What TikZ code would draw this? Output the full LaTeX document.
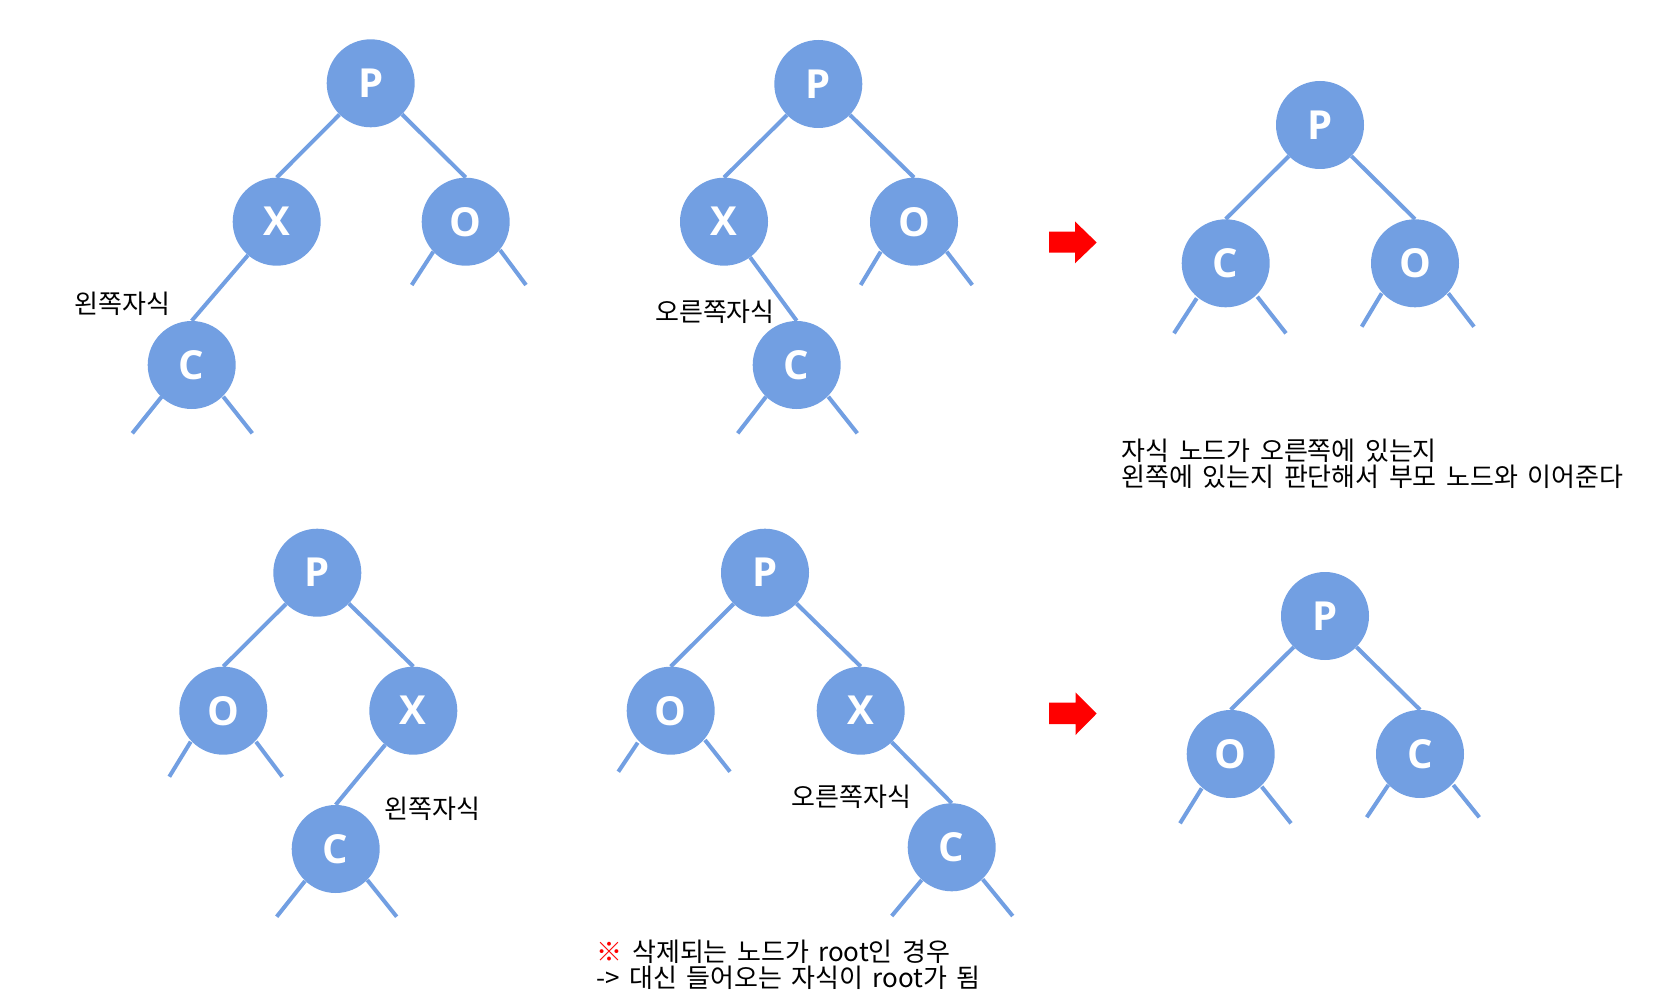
\documentclass[tikz,border=0pt]{standalone}
\usepackage{fontspec}
\usetikzlibrary{calc,backgrounds}
\newfontfamily\kr[WordSpace=1.6]{Noto Sans CJK KR}
\newfontfamily\lettfont{Open Sans}
\definecolor{nodeblue}{RGB}{114,159,226}
\definecolor{arrowred}{RGB}{255,0,0}
\tikzset{
  tnode/.style={circle,fill=nodeblue,draw=none,minimum size=88pt,inner sep=0pt,
    text=white,font={\lettfont\bfseries\fontsize{40}{40}\selectfont}},
  edge/.style={draw=nodeblue,line width=4pt,line cap=butt},
  lbl/.style={font={\kr\fontsize{26}{28}\selectfont},text=black,inner sep=0pt},
  para/.style={font={\kr\fontsize{26}{26.5}\selectfont},text=black,inner sep=0pt,align=left,anchor=west},
  redarrow/.style={fill=arrowred,draw=none}
}
\newcommand{\stubs}[9]{%
  \draw[edge] ($(#1.center)+(#2,#3)$) -- ($(#1.center)+(#4,#5)$);
  \draw[edge] ($(#1.center)+(#6,#7)$) -- ($(#1.center)+(#8,#9)$);}
\begin{document}
\begin{tikzpicture}[x=1pt,y=-1pt]
\useasboundingbox (0,0) rectangle (1672,1008);

% ---------- nodes ----------
\node[tnode] (P1) at (370.7,83.3) {P}; \node[tnode] (X1) at (276.7,221.7) {X};
\node[tnode] (O1) at (465.7,221.7) {O}; \node[tnode] (C1) at (191.7,365) {C};
\node[tnode] (P2) at (818.3,84) {P}; \node[tnode] (X2) at (724,221.7) {X};
\node[tnode] (O2) at (914,221.7) {O}; \node[tnode] (C2) at (796.7,365) {C};
\node[tnode] (P3) at (1320,125) {P}; \node[tnode] (C3) at (1225.7,263.3) {C};
\node[tnode] (O3) at (1415,263.3) {O};
\node[tnode] (P4) at (317.3,572.7) {P}; \node[tnode] (O4) at (223.3,710.7) {O};
\node[tnode] (X4) at (413.3,710.7) {X}; \node[tnode] (C4) at (335.7,849) {C};
\node[tnode] (P5) at (765,572.7) {P}; \node[tnode] (O5) at (670.7,710.7) {O};
\node[tnode] (X5) at (860.7,710.7) {X}; \node[tnode] (C5) at (951.7,847.3) {C};
\node[tnode] (P6) at (1325,616) {P}; \node[tnode] (O6) at (1230.7,754) {O};
\node[tnode] (C6) at (1420,754) {C};

\begin{scope}[on background layer]
% ---------- edges ----------
\draw[edge] (P1) -- (X1.north);
\draw[edge] (P1) -- (O1.north);
\draw[edge] (X1) -- (C1.north);
\draw[edge] (P2) -- (X2.north);
\draw[edge] (P2) -- (O2.north);
\draw[edge] (X2) -- (C2.north);
\draw[edge] (P3) -- (C3.north);
\draw[edge] (P3) -- (O3.north);
\draw[edge] (P4) -- (O4.north);
\draw[edge] (P4) -- (X4.north);
\draw[edge] (X4) -- (C4.north);
\draw[edge] (P5) -- (O5.north);
\draw[edge] (P5) -- (X5.north);
\draw[edge] (X5) -- (C5.north);
\draw[edge] (P6) -- (O6.north);
\draw[edge] (P6) -- (C6.north);
% ---------- stubs ----------
\stubs{O1}{-32.4}{30}{-54}{63.3}{34.3}{28.3}{60.3}{63.3}
\stubs{C1}{-30}{31.7}{-59.4}{68.3}{31.6}{31.7}{60.6}{68.3}
\stubs{O2}{-33.3}{30}{-53.3}{63.3}{32.7}{30}{58.3}{63.3}
\stubs{C2}{-30.7}{31.7}{-59}{68.3}{31.6}{31.7}{60.6}{68.3}
\stubs{C3}{-29}{35}{-51.7}{70}{31.6}{33.4}{60.3}{70}
\stubs{O3}{-33.3}{30}{-53.3}{63.4}{33.3}{30}{59}{63.4}
\stubs{O4}{-32.6}{31}{-54}{66}{32.7}{31}{59}{66}
\stubs{C4}{-30.7}{32}{-59}{67.7}{31.6}{31}{61}{67.7}
\stubs{O5}{-33}{32}{-52.4}{61}{34.3}{29.3}{59.3}{61}
\stubs{C5}{-30}{32.7}{-60}{68.7}{31}{32}{61}{68.7}
\stubs{O6}{-29}{34.3}{-50.7}{69.3}{31}{32.7}{60.3}{69.3}
\stubs{C6}{-31.7}{31}{-53.3}{63.3}{33.3}{31}{59.3}{63.3}
\end{scope}

% ---------- labels ----------
\node[lbl] (l1) at (122.5,303.3) {왼쪽자식};
\node[lbl] (l2) at (715,311.7) {오른쪽자식};
\node[lbl] (l4) at (432.8,808.3) {왼쪽자식};
\node[lbl] (l5) at (851.3,796.7) {오른쪽자식};

\node[para] (t1) at (1121.7,464) {자식 노드가 오른쪽에 있는지\\왼쪽에 있는지 판단해서 부모 노드와 이어준다};
\node[para] (t2) at (596.7,965) {\textcolor{arrowred}{※} 삭제되는 노드가 root인 경우\\-> 대신 들어오는 자식이 root가 됨};

% ---------- arrows ----------
\fill[redarrow] (1049,231.7) -- (1075,231.7) -- (1075,221.5) -- (1096.7,242.5)
  -- (1075,263.3) -- (1075,252.7) -- (1049,252.7) -- cycle;
\fill[redarrow] (1049,702.7) -- (1075.5,702.7) -- (1075.5,692.3) -- (1096.7,713.5)
  -- (1075.5,735) -- (1075.5,724) -- (1049,724) -- cycle;
\end{tikzpicture}
\end{document}
